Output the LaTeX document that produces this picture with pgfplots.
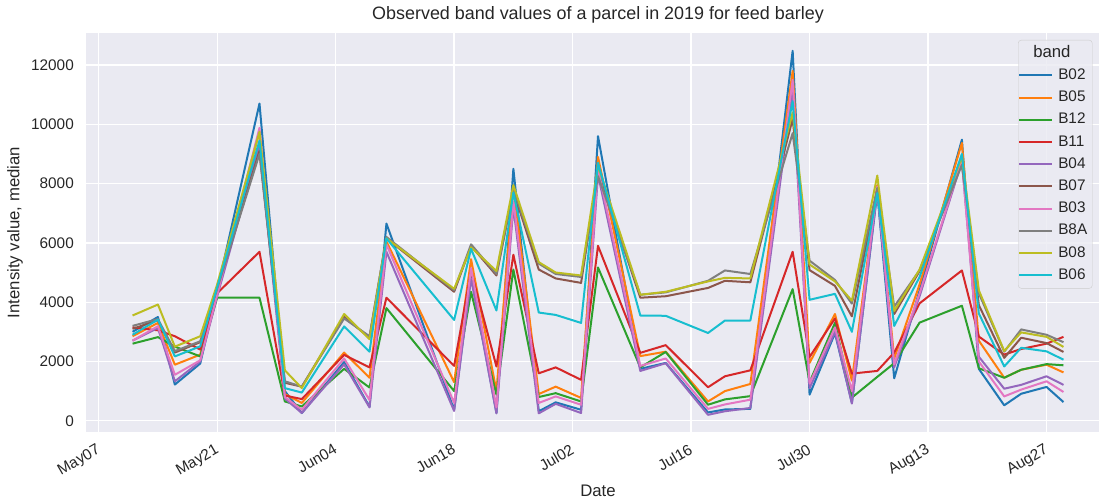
\documentclass[border=0pt]{standalone}
\usepackage{pgfplots}
\pgfplotsset{compat=1.18}
\usepackage{pgfplotstable}
\usepackage{fontspec}
\setmainfont{Liberation Sans}
\definecolor{axbg}{HTML}{EAEAF2}
\definecolor{txt}{HTML}{262626}
\definecolor{cB02}{HTML}{1F77B4}
\definecolor{cB05}{HTML}{FF7F0E}
\definecolor{cB12}{HTML}{2CA02C}
\definecolor{cB11}{HTML}{D62728}
\definecolor{cB04}{HTML}{9467BD}
\definecolor{cB07}{HTML}{8C564B}
\definecolor{cB03}{HTML}{E377C2}
\definecolor{cB8A}{HTML}{7F7F7F}
\definecolor{cB08}{HTML}{BCBD22}
\definecolor{cB06}{HTML}{17BECF}

% day = days after May 07, 2019
\pgfplotstableread{
day B02 B05 B12 B11 B04 B07 B03 B8A B08 B06
4 3000 2850 2600 3150 2700 3100 2700 3200 3550 2900
7 3500 3300 2820 3050 3130 3390 3190 3430 3920 3410
9 1220 1890 2500 2850 1330 2300 1550 2350 2500 2170
12 1930 2230 2170 2400 2000 2650 2040 2680 2850 2510
14 4400 4350 4150 4300 4200 4450 4250 4450 4600 4500
19 10700 9750 4150 5700 9300 9100 9880 9000 9750 9450
22 1000 900 650 850 750 1280 800 1330 1700 1100
24 260 600 480 730 260 1150 370 1150 1100 950
29 1980 2300 1750 2220 1900 3500 2100 3450 3600 3180
32 470 1450 1120 1800 450 2800 700 2850 2750 2330
34 6650 6050 3800 4150 5700 6150 5950 6200 6150 6150
42 370 1300 1000 1850 330 4350 600 4400 4450 3400
44 4900 5450 4350 5050 4800 5900 5150 5950 5850 5800
47 260 1000 880 1830 250 4900 450 4950 5050 3720
49 8500 7900 5100 5600 7200 7750 7400 7800 7950 7700
52 320 900 800 1600 250 5100 600 5300 5350 3650
54 620 1150 930 1800 570 4800 820 4950 5000 3570
57 370 770 650 1380 260 4650 540 4850 4900 3300
59 9600 8900 5170 5900 8300 8400 8500 8250 8600 8700
64 1750 2180 1800 2290 1680 4150 1850 4250 4250 3550
67 1950 2330 2320 2550 1940 4200 2100 4330 4350 3540
72 280 650 540 1130 200 4480 400 4720 4700 2960
74 380 1000 720 1500 320 4720 550 5070 4820 3380
77 400 1240 830 1700 430 4670 710 4950 4800 3380
82 12480 11800 4440 5700 11200 10180 11500 9700 10400 10780
84 880 1950 1300 2150 1100 5080 1250 5400 5270 4080
87 2950 3600 3300 3450 3000 4550 3150 4750 4700 4280
89 600 1350 780 1590 580 3520 1000 3950 4050 3000
92 7700 7950 1480 1680 7750 7800 7900 7850 8270 7680
94 1430 2100 1940 2300 1800 3600 1900 3850 3700 3200
97 4400 4600 3310 3960 4200 5050 4300 5080 5100 4850
102 9480 9370 3880 5070 8750 8700 8800 8630 8900 9000
104 1750 2700 1770 2840 2160 3900 2000 4300 4400 3620
107 520 1450 1450 2230 1080 2120 820 2330 2350 1830
109 910 1720 1720 2420 1210 2800 1050 3080 2980 2460
112 1140 1890 1910 2600 1500 2620 1330 2900 2830 2340
114 630 1630 1870 2830 1210 2320 970 2650 2490 2060
}\bands

\begin{document}
\begin{tikzpicture}
\begin{axis}[
  name=ax,
  scale only axis,
  width=1024bp, height=399bp,
  xmin=-1.5, xmax=119.5,
  ymin=-380, ymax=13080,
  axis background/.style={fill=axbg},
  axis line style={draw=none},
  major tick length=0pt,
  grid=major,
  major grid style={white, line width=1.3bp},
  xtick={0,14,...,112},
  xticklabels={May07,May21,Jun04,Jun18,Jul02,Jul16,Jul30,Aug13,Aug27},
  ytick={0,2000,...,12000},
  scaled y ticks=false,
  /pgf/number format/assume math mode=true,
  yticklabel style={/pgf/number format/.cd, fixed, 1000 sep={}, /tikz/.cd,
    font=\fontsize{15.4}{18}\selectfont, text=txt, inner sep=0pt, xshift=-12bp},
  xticklabel style={font=\fontsize{15.4}{18}\selectfont, text=txt, inner sep=0pt,
    xshift=-3bp, yshift=-11bp, rotate=30, anchor=north east},
  title={Observed band values of a parcel in 2019 for feed barley},
  title style={font=\fontsize{18}{21}\selectfont, text=txt, inner sep=0pt,
    at={(axis description cs:0.5,1)}, anchor=south, yshift=4bp},
  xlabel={Date},
  xlabel style={font=\fontsize{16.8}{20}\selectfont, text=txt, inner sep=0pt,
    at={(axis description cs:0.5,0)}, anchor=north, yshift=-53bp},
  ylabel={Intensity value, median},
  ylabel style={font=\fontsize{16.8}{20}\selectfont, text=txt, inner sep=0pt,
    at={(axis description cs:-0.0615,0.5)}, anchor=south},
  legend cell align=left,
  legend image code/.code={\draw[#1, line width=2bp] (0bp,0bp) -- (33bp,0bp);},
  legend style={at={(axis description cs:0.9102,0.9825)}, anchor=north west,
    draw=black!20, fill=axbg, fill opacity=0.8, text opacity=1,
    rounded corners=3bp, inner xsep=0pt, inner ysep=2bp, row sep=0pt,
    font=\fontsize{15.4}{18}\selectfont, text=txt,
    nodes={inner xsep=5bp, inner ysep=4.1bp, text height=11bp, text depth=3bp}},
  every axis plot/.append style={line width=2bp, line join=round},
]
\addlegendimage{empty legend}
\addlegendentry{\fontsize{16.8}{18}\selectfont\hspace*{-25bp}band}
\addplot[cB02] table[x=day,y=B02]{\bands}; \addlegendentry{B02}
\addplot[cB05] table[x=day,y=B05]{\bands}; \addlegendentry{B05}
\addplot[cB12] table[x=day,y=B12]{\bands}; \addlegendentry{B12}
\addplot[cB11] table[x=day,y=B11]{\bands}; \addlegendentry{B11}
\addplot[cB04] table[x=day,y=B04]{\bands}; \addlegendentry{B04}
\addplot[cB07] table[x=day,y=B07]{\bands}; \addlegendentry{B07}
\addplot[cB03] table[x=day,y=B03]{\bands}; \addlegendentry{B03}
\addplot[cB8A] table[x=day,y=B8A]{\bands}; \addlegendentry{B8A}
\addplot[cB08] table[x=day,y=B08]{\bands}; \addlegendentry{B08}
\addplot[cB06] table[x=day,y=B06]{\bands}; \addlegendentry{B06}
\end{axis}
\pgfresetboundingbox
\path ([xshift=-86bp,yshift=-69bp]ax.south west) rectangle ([xshift=-11bp,yshift=33bp]ax.north east);
\end{tikzpicture}
\end{document}
